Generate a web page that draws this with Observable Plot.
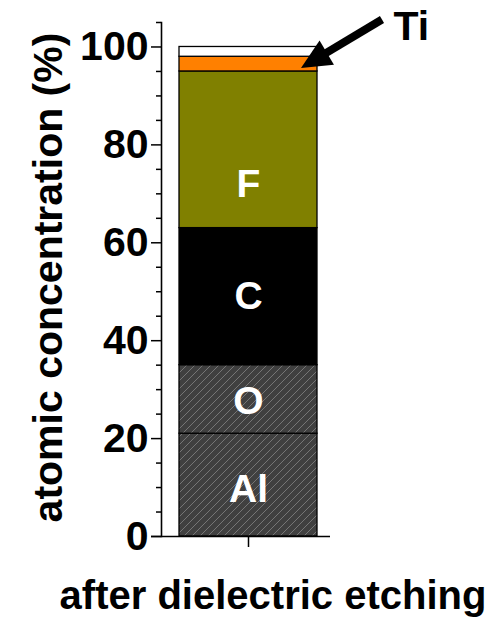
<!DOCTYPE html>
<html>
<head>
<meta charset="utf-8">
<script src="https://cdn.jsdelivr.net/npm/d3@7"></script>
<script src="https://cdn.jsdelivr.net/npm/@observablehq/plot@0.6"></script>
<style>
  html, body { margin: 0; padding: 0; background: #fff; }
  svg { display: block; }
</style>
</head>
<body>
<div id="chart"></div>
<script>
// XPS composition of the surface after dielectric etching
const sample = "after dielectric etching";
const elements = ["Al", "O", "C", "F", "Ti", "other"];
const concentrations = [21, 14, 28, 32, 3, 2];
const segmentFills = ["url(#hatch)", "url(#hatch)", "#000000", "#808000", "#ff8000", "#ffffff"];

// element names written inside the bar, and the height they sit at
const insideLabels = ["F", "C", "O", "Al"];
const insideLabelHeights = [72, 49, 27.5, 9.5];

// y axis ticks
const majorTicks = [0, 20, 40, 60, 80, 100];
const minorTicks = [5, 10, 15, 25, 30, 35, 45, 50, 55, 65, 70, 75, 85, 90, 95, 105];

const yTitle = "atomic concentration (%)";
const font = "'Liberation Sans', Arial, Helvetica, sans-serif";

const rows = elements.map((element, i) => ({
  sample, element, value: concentrations[i], fill: segmentFills[i]
}));
const labelRows = insideLabels.map((name, i) => ({sample, name, y: insideLabelHeights[i]}));

// diagonal hatching used for the Al and O segments
function hatchDefs() {
  const defs = d3.create("svg:defs");
  const p = defs.append("pattern")
    .attr("id", "hatch")
    .attr("patternUnits", "userSpaceOnUse")
    .attr("width", 8).attr("height", 8);
  p.append("rect").attr("width", 8).attr("height", 8).attr("fill", "#404040");
  p.append("path")
    .attr("d", "M-2,2 L2,-2 M0,8 L8,0 M6,10 L10,6")
    .attr("stroke", "#767676").attr("stroke-width", 1);
  return defs.node();
}

// filled arrow pointing at the thin Ti layer
function tiArrow(index, scales) {
  const x = scales.x;
  const bw = x.bandwidth ? x.bandwidth() : 0;
  const right = x(sample) + bw;
  const tip = [right - 16, scales.y(95.6)];
  const tail = [right + 65, scales.y(105.5)];
  const ang = Math.atan2(tail[1] - tip[1], tail[0] - tip[0]);
  const ux = Math.cos(ang), uy = Math.sin(ang), nx = -uy, ny = ux;
  const headLen = 30, headHalf = 14;
  const base = [tip[0] + ux * headLen, tip[1] + uy * headLen];
  const g = d3.create("svg:g");
  g.append("line")
    .attr("x1", base[0] - ux * 2).attr("y1", base[1] - uy * 2)
    .attr("x2", tail[0]).attr("y2", tail[1])
    .attr("stroke", "#000").attr("stroke-width", 8);
  g.append("polygon")
    .attr("points", [
      tip,
      [base[0] + nx * headHalf, base[1] + ny * headHalf],
      [base[0] - nx * headHalf, base[1] - ny * headHalf]
    ].map(p => p.join(",")).join(" "))
    .attr("fill", "#000");
  return g.node();
}

const chart = Plot.plot({
  width: 491,
  height: 618,
  marginTop: 22,
  marginBottom: 82,
  marginLeft: 161,
  marginRight: 155,
  style: {fontFamily: font, fontWeight: "bold", background: "#fff", color: "#000"},
  x: {domain: [sample], padding: 0.115, axis: null},
  y: {domain: [0, 105], axis: null},
  color: {type: "identity"},
  marks: [
    hatchDefs,
    Plot.barY(rows, {x: "sample", y: "value", fill: "fill", stroke: "#000", strokeWidth: 1.3}),
    Plot.text(labelRows, {x: "sample", y: "y", text: "name", fill: "#fff", fontSize: 39, fontWeight: "bold"}),
    Plot.frame({anchor: "left", strokeWidth: 1.6}),
    Plot.ruleY([0], {strokeWidth: 1.6, insetLeft: -10, insetRight: 6}),
    Plot.axisY(minorTicks, {tickSize: 5, strokeWidth: 1.5, tickFormat: () => "", label: null}),
    Plot.axisY(majorTicks, {tickSize: 10, tickPadding: 3, strokeWidth: 1.5, fontSize: 41, fontWeight: "bold", tickFormat: d => String(d), label: null}),
    Plot.axisX({tickSize: 11, strokeWidth: 1.5, tickFormat: () => "", label: null}),
    Plot.text([yTitle], {frameAnchor: "left", textAnchor: "middle", rotate: -90, dx: -113, dy: -2, fontSize: 41, fontWeight: "bold"}),
    Plot.text([sample], {frameAnchor: "bottom", textAnchor: "middle", dx: 24, dy: 72, fontSize: 40, fontWeight: "bold"}),
    Plot.text(["Ti"], {x: () => sample, y: () => 104.2, dx: 145, textAnchor: "start", fontSize: 41, fontWeight: "bold"}),
    tiArrow
  ]
});

document.getElementById("chart").append(chart);
</script>
</body>
</html>
